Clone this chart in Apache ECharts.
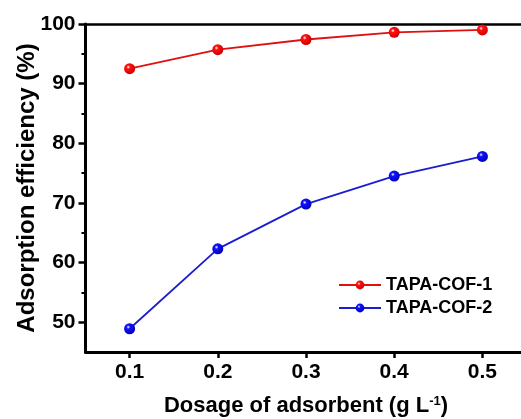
<!DOCTYPE html>
<html>
<head>
<meta charset="utf-8">
<script src="https://cdn.jsdelivr.net/npm/echarts@6/dist/echarts.min.js"></script>
<style>
  html, body { margin: 0; padding: 0; background: #fff; overflow: hidden; }
  /* The frame runs slightly past the right edge of the window */
  #chart { width: 527px; height: 419px; }
</style>
</head>
<body>
<div id="chart"></div>
<script>
// Adsorbent dosage (g/L) against removal efficiency (%) for two COFs
const dosage = [0.1, 0.2, 0.3, 0.4, 0.5];
const cof1 = [92.5, 95.7, 97.4, 98.6, 99.0];
const cof2 = [48.9, 62.3, 69.8, 74.5, 77.8];
const seriesNames = ['TAPA-COF-1', 'TAPA-COF-2'];
const xTicks = [0.1, 0.2, 0.3, 0.4, 0.5];
const yTicks = [50, 60, 70, 80, 90, 100];
const yMinorTicks = [55, 65, 75, 85, 95];

const FONT = '"Liberation Sans", Arial, Helvetica, sans-serif';

function sphere(base, dark) {
  return {
    type: 'radial', x: 0.38, y: 0.35, r: 0.7,
    colorStops: [
      { offset: 0, color: '#ffffff' },
      { offset: 0.25, color: base },
      { offset: 1, color: dark }
    ]
  };
}

const chart = echarts.init(document.getElementById('chart'), null, { renderer: 'canvas' });

const axisTextBase = { color: '#000', fontFamily: FONT, fontWeight: 'bold' };

chart.setOption({
  backgroundColor: '#ffffff',
  animation: false,
  grid: { left: 85.5, top: 24, width: 441, height: 328, containLabel: false, outerBoundsMode: 'none' },
  legend: {
    orient: 'vertical',
    left: 333, top: 271,
    itemWidth: 42, itemHeight: 11,
    itemGap: 5,
    data: seriesNames,
    textStyle: { color: '#000', fontFamily: FONT, fontWeight: 'bold', fontSize: 18 }
  },
  xAxis: [{
    type: 'value',
    min: 0.05, max: 0.55,
    position: 'bottom',
    name: 'Dosage of adsorbent (g L{sup|-1})',
    nameLocation: 'middle',
    nameGap: 43,
    nameMoveOverlap: false,
    nameTextStyle: {
      ...axisTextBase, fontSize: 22,
      rich: { sup: { ...axisTextBase, fontSize: 13, verticalAlign: 'top', padding: [0, 0, 9, 0] } }
    },
    axisLine: { show: true, onZero: false, lineStyle: { color: '#000', width: 3 } },
    axisTick: { show: true, inside: false, length: 6, customValues: xTicks, lineStyle: { color: '#000', width: 2.5 } },
    axisLabel: { ...axisTextBase, fontSize: 21, margin: 10, customValues: xTicks, formatter: v => v.toFixed(1) },
    splitLine: { show: false }
  }, {
    type: 'value',
    min: 0.05, max: 0.55,
    position: 'top',
    axisLine: { show: true, onZero: false, lineStyle: { color: '#000', width: 2.5 } },
    axisTick: { show: false },
    axisLabel: { show: false },
    splitLine: { show: false }
  }],
  yAxis: [{
    type: 'value',
    min: 45, max: 100,
    position: 'left',
    name: 'Adsorption efficiency (%)',
    nameLocation: 'middle',
    nameGap: 46,
    nameMoveOverlap: false,
    nameTextStyle: { ...axisTextBase, fontSize: 24 },
    axisLine: { show: true, onZero: false, lineStyle: { color: '#000', width: 3 } },
    axisTick: { show: true, inside: false, length: 7, customValues: yTicks, lineStyle: { color: '#000', width: 2.5 } },
    axisLabel: { ...axisTextBase, fontSize: 21, margin: 10, customValues: yTicks },
    splitLine: { show: false }
  }, {
    type: 'value',
    min: 45, max: 100,
    position: 'left',
    axisLine: { show: false },
    axisTick: { show: true, inside: false, length: 4, customValues: yMinorTicks, lineStyle: { color: '#000', width: 2 } },
    axisLabel: { show: false },
    splitLine: { show: false }
  }],
  series: [{
    name: seriesNames[0],
    type: 'line',
    data: dosage.map((d, i) => [d, cof1[i]]),
    symbol: 'circle', symbolSize: 11,
    lineStyle: { color: '#e01010', width: 1.8 },
    itemStyle: { color: sphere('#ff1010', '#c80000'), borderWidth: 0 }
  }, {
    name: seriesNames[1],
    type: 'line',
    data: dosage.map((d, i) => [d, cof2[i]]),
    symbol: 'circle', symbolSize: 11,
    lineStyle: { color: '#1c1cd0', width: 1.8 },
    itemStyle: { color: sphere('#1010ff', '#0000b0'), borderWidth: 0 }
  }]
});
</script>
</body>
</html>
